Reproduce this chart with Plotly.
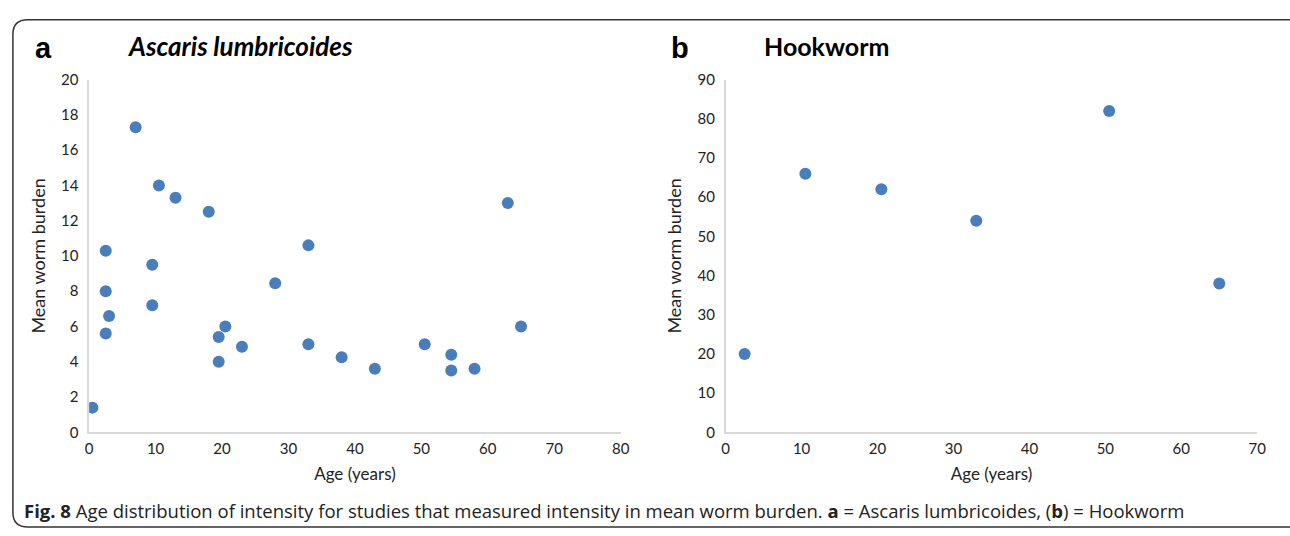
import plotly.graph_objects as go

# panel a - Ascaris lumbricoides
asc_age = [0.5, 2.5, 2.5, 3.0, 2.5, 7.0, 9.5, 9.5, 10.5, 13.0, 18.0, 19.5, 20.5, 23.0,
           19.5, 28.0, 33.0, 33.0, 38.0, 43.0, 50.5, 54.5, 54.5, 58.0, 63.0, 65.0]
asc_burden = [1.4, 10.3, 8.0, 6.6, 5.6, 17.3, 9.5, 7.2, 14.0, 13.3, 12.5, 5.4, 6.0, 4.85,
              4.0, 8.45, 10.6, 5.0, 4.25, 3.6, 5.0, 4.4, 3.5, 3.6, 13.0, 6.0]

# panel b - Hookworm
hook_age = [2.5, 10.5, 20.5, 33.0, 50.5, 65.0]
hook_burden = [20, 66, 62, 54, 82, 38]

blue = '#4a7ebb'
axcol = '#d9d9d9'
tickfont = dict(family='Lato', size=15, color='#222')

fig = go.Figure()
fig.add_trace(go.Scatter(x=asc_age, y=asc_burden, mode='markers',
                         marker=dict(color=blue, size=12), xaxis='x', yaxis='y', showlegend=False))
fig.add_trace(go.Scatter(x=hook_age, y=hook_burden, mode='markers',
                         marker=dict(color=blue, size=12), xaxis='x2', yaxis='y2', showlegend=False))

def xax(dom, rng, dt):
    return dict(domain=dom, range=rng, dtick=dt, showgrid=False, zeroline=False,
                showline=True, linecolor=axcol, linewidth=1.5, ticks='', tickfont=tickfont,
                ticklabelstandoff=2, fixedrange=True,
                title=dict(text='Age (years)', font=dict(family='Lato', size=17, color='#222'), standoff=12))

def yax(dom, rng, dt, anchor):
    return dict(domain=dom, range=rng, dtick=dt, showgrid=False, zeroline=False, anchor=anchor,
                showline=True, linecolor=axcol, linewidth=1.5, ticks='', tickfont=tickfont,
                ticklabelstandoff=6, fixedrange=True,
                title=dict(text='Mean worm burden', font=dict(family='Lato', size=18, color='#222'), standoff=11))

ydom = [1 - 437/536, 1 - 72/536]
fig.update_layout(
    width=1290, height=536,
    margin=dict(l=0, r=0, t=0, b=0),
    paper_bgcolor='white', plot_bgcolor='white',
    xaxis=xax([86/1290, 623/1290], [0, 80], 10),
    yaxis=yax(ydom, [0, 20], 2, 'x'),
    xaxis2=dict(xax([729/1290, 1266/1290], [0, 70], 10), anchor='y2'),
    yaxis2=yax(ydom, [0, 90], 10, 'x2'),
)

# panel letters and titles
fig.add_annotation(x=29/1290, y=1 - 39/536, xref='paper', yref='paper', xanchor='left', yanchor='middle',
                   text='<b>a</b>', showarrow=False, font=dict(family='Liberation Sans', size=29, color='black'))
fig.add_annotation(x=672/1290, y=1 - 39/536, xref='paper', yref='paper', xanchor='left', yanchor='middle',
                   text='<b>b</b>', showarrow=False, font=dict(family='Liberation Sans', size=29, color='black'))
fig.add_annotation(x=122/1290, y=1 - 37/536, xref='paper', yref='paper', xanchor='left', yanchor='middle',
                   text='<b><i>Ascaris lumbricoides</i></b>', showarrow=False,
                   font=dict(family='Lato', size=26, color='black'))
fig.add_annotation(x=766/1290, y=1 - 37/536, xref='paper', yref='paper', xanchor='left', yanchor='middle',
                   text='<b>Hookworm</b>', showarrow=False,
                   font=dict(family='Lato', size=25, color='black'))

# caption
fig.add_annotation(x=18/1290, y=1 - 518/536, xref='paper', yref='paper', xanchor='left', yanchor='middle',
                   text='<b>Fig. 8</b> Age distribution of intensity for studies that measured intensity in mean worm burden. '
                        '<b>a</b> = Ascaris lumbricoides, (<b>b</b>) = Hookworm',
                   showarrow=False, font=dict(family='Open Sans', size=18.5, color='#222'))

# rounded frame, open to the right/bottom edge
W, H = 1290, 536
def px(x, y):
    return f'{x/W:.5f},{1 - y/H:.5f}'
path = ('M ' + px(1300, 10) + ' L ' + px(24, 10) + ' Q ' + px(9, 10) + ' ' + px(9, 25) +
        ' L ' + px(9, 520) + ' Q ' + px(9, 535) + ' ' + px(24, 535) + ' L ' + px(1300, 535))
fig.add_shape(type='path', path=path, xref='paper', yref='paper',
              line=dict(color='#333333', width=1.5))

fig.write_html('out.html', config={'displayModeBar': False},
               post_script="document.body.style.margin='0';")
